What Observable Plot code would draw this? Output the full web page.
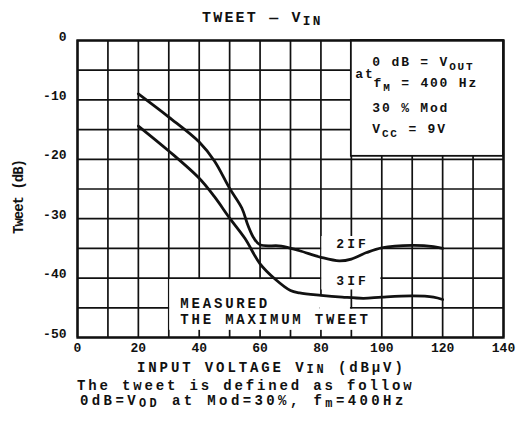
<!DOCTYPE html>
<html>
<head>
<meta charset="utf-8">
<script src="https://cdn.jsdelivr.net/npm/d3@7"></script>
<script src="https://cdn.jsdelivr.net/npm/@observablehq/plot@0.6"></script>
<style>
  body { margin: 0; background: #fff; }
  #wrap { position: relative; width: 523px; height: 423px; overflow: hidden;
          font-family: "Liberation Mono", monospace; font-weight: bold; color: #111; }
  #wrap svg { position: absolute; left: 0; top: 0; }
  .t { position: absolute; white-space: nowrap; line-height: 1; }
  .t sub { font-size: 0.85em; vertical-align: -0.2em; line-height: 0; }
  #title { left: 202px; top: 11px; font-size: 15px; letter-spacing: 2.2px; }
  #xlab { left: 137px; top: 361px; font-size: 14px; letter-spacing: 2.9px; }
  #xlab sub { vertical-align: -0.12em; }
  #cap1 { left: 77px; top: 379px; font-size: 14px; letter-spacing: 2.85px; }
  #cap2 { left: 80px; top: 394px; font-size: 14px; letter-spacing: 3.4px; }
</style>
</head>
<body>
<div id="wrap"></div>
<script>
// ---------- data ----------
const xTicks = [0, 20, 40, 60, 80, 100, 120, 140];
const yTicks = [0, -10, -20, -30, -40, -50];

const x2IF = [20, 30, 40, 45, 50, 54, 56, 58, 60, 67, 73, 80, 86, 90, 95, 100, 110, 117, 120];
const y2IF = [-9, -12.9, -17.1, -20.3, -24.9, -28.2, -31.1, -33.3, -34.4, -34.6, -35.4, -36.5, -37.1, -36.8, -35.7, -34.9, -34.5, -34.7, -35.0];

const x3IF = [20, 30, 40, 45, 50, 55, 60, 65, 70, 73, 80, 87, 94, 100, 110, 117, 120];
const y3IF = [-14.4, -18.6, -23.2, -26.3, -29.9, -33.3, -37.6, -40.2, -42.1, -42.5, -42.9, -43.2, -43.4, -43.2, -43.0, -43.2, -43.6];

const curveNames = ["2IF", "3IF"];
const curveLabelX = [90.4, 90.4];
const curveLabelY = [-34.2, -40.4];

const noteLines = ["0 dB = V_{OUT}", "at", "f_{M} = 400 Hz", "30 % Mod", "V_{CC} = 9V"];
const noteX = [96.9, 91.3, 97.3, 96.9, 96.9];
const noteY = [-3.6, -5.6, -7.1, -11.3, -14.8];

const measuredLines = ["MEASURED", "THE MAXIMUM TWEET"];
const measuredX = [33.8, 33.8];
const measuredY = [-44.3, -47.0];

// white annotation panels (data units)
const panelX1 = [80.3, 30.3, 79.7, 89.7];
const panelX2 = [99.7, 79.7, 89.7, 99.7];
const panelY1 = [-33, -40.25, -43, -45.25];
const panelY2 = [-42, -48.8, -48.8, -48.8];
const noteBoxX = [90, 140];
const noteBoxY = [0, -19.5];

const titleText = "TWEET — V_{IN}";
const xLabelText = "INPUT VOLTAGE  V_{IN} (dBμV)";
const yLabelText = "Tweet (dB)";
const captionLines = ["The tweet is defined as follow", "0dB=V_{OD} at Mod=30%, f_{m}=400Hz"];

// ---------- tables ----------
const c2 = x2IF.map((x, i) => ({x, y: y2IF[i]}));
const c3 = x3IF.map((x, i) => ({x, y: y3IF[i]}));
const labels = curveNames.map((t, i) => ({t, x: curveLabelX[i], y: curveLabelY[i]}));
const notes = noteLines.map((t, i) => ({t, x: noteX[i], y: noteY[i]}));
const measured = measuredLines.map((t, i) => ({t, x: measuredX[i], y: measuredY[i]}));
const panels = panelX1.map((x1, i) => ({x1, x2: panelX2[i], y1: panelY1[i], y2: panelY2[i]}));
const noteBox = [{x1: noteBoxX[0], x2: noteBoxX[1], y1: noteBoxY[0], y2: noteBoxY[1]}];

const ink = "#111";

const plot = Plot.plot({
  width: 523,
  height: 423,
  marginLeft: 77,
  marginRight: 20,
  marginTop: 40,
  marginBottom: 86,
  style: {fontFamily: "'Liberation Mono', monospace", fontWeight: "bold", color: ink, background: "transparent", overflow: "visible"},
  x: {domain: [0, 140]},
  y: {domain: [-50, 0]},
  marks: [
    Plot.gridX({ticks: d3.range(0, 141, 10), stroke: ink, strokeOpacity: 1, strokeWidth: 1.7}),
    Plot.gridY({ticks: d3.range(-50, 1, 5), stroke: ink, strokeOpacity: 1, strokeWidth: 1.7}),
    Plot.rect(panels, {x1: "x1", x2: "x2", y1: "y1", y2: "y2", fill: "white"}),
    Plot.rect(noteBox, {x1: "x1", x2: "x2", y1: "y1", y2: "y2", fill: "white", stroke: ink, strokeWidth: 1.8}),
    Plot.frame({stroke: ink, strokeWidth: 2.4}),
    Plot.line(c2, {x: "x", y: "y", curve: "catmull-rom", stroke: ink, strokeWidth: 2.8}),
    Plot.line(c3, {x: "x", y: "y", curve: "catmull-rom", stroke: ink, strokeWidth: 2.8}),
    Plot.text(labels, {x: "x", y: "y", text: "t", fontSize: 13, fill: ink}),
    Plot.text(notes, {x: "x", y: "y", text: "t", fontSize: 13, textAnchor: "start", fill: ink}),
    Plot.text(measured, {x: "x", y: "y", text: "t", fontSize: 14, textAnchor: "start", fill: ink}),
    Plot.text([yLabelText], {frameAnchor: "left", textAnchor: "middle", text: d => d, rotate: -90, dx: -59, dy: 8, fontSize: 14, fill: ink}),
    Plot.axisX({ticks: xTicks, tickSize: 0, tickPadding: 5, fontSize: 13, label: null, fill: ink}),
    Plot.axisY({ticks: yTicks, tickSize: 0, tickPadding: 11, fontSize: 13, label: null, dy: -4, fill: ink, tickFormat: d => String(d)})
  ]
});

// letter spacing per text group, matched by content
const spacing = new Map();
noteLines.forEach(t => spacing.set(t, "1.8px"));
measuredLines.forEach(t => spacing.set(t, "2.8px"));
curveNames.forEach(t => spacing.set(t, "3px"));
spacing.set(yLabelText, "-1px");

// turn _{...} markup into real subscript tspans
function subify(el, shift) {
  const s = el.textContent;
  if (!s.includes("_{")) return;
  el.textContent = "";
  const parts = s.split(/(_\{[^}]*\})/).filter(p => p.length);
  let prevSub = false;
  for (const p of parts) {
    const m = p.match(/^_\{(.*)\}$/);
    const ts = document.createElementNS("http://www.w3.org/2000/svg", "tspan");
    if (m) {
      ts.textContent = m[1];
      ts.setAttribute("dy", shift);
      ts.setAttribute("font-size", "11");
      prevSub = true;
    } else {
      ts.textContent = p;
      if (prevSub) ts.setAttribute("dy", -shift);
      prevSub = false;
    }
    el.appendChild(ts);
  }
}
d3.select(plot).selectAll("text").each(function() {
  const s = this.textContent;
  if (spacing.has(s)) this.style.letterSpacing = spacing.get(s);
  subify(this, 4);
});

function htmlSub(s) {
  return s.replace(/&/g, "&amp;").replace(/</g, "&lt;").replace(/_\{([^}]*)\}/g, "<sub>$1</sub>");
}

const wrap = document.getElementById("wrap");
wrap.appendChild(plot);
const add = (id, s) => {
  const d = document.createElement("div");
  d.className = "t"; d.id = id; d.innerHTML = htmlSub(s);
  wrap.appendChild(d);
};
add("title", titleText);
add("xlab", xLabelText);
add("cap1", captionLines[0]);
add("cap2", captionLines[1]);
</script>
</body>
</html>
